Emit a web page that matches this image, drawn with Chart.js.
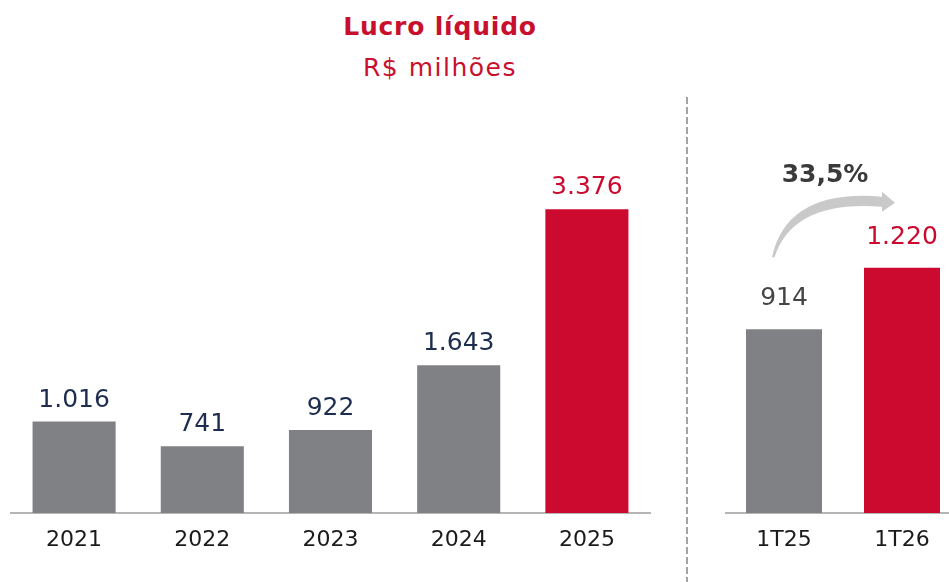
<!DOCTYPE html>
<html lang="pt-BR">
<head>
<meta charset="utf-8">
<title>Lucro líquido</title>
<script src="https://cdn.jsdelivr.net/npm/chart.js@4.4.1/dist/chart.umd.min.js"></script>
<style>
    html, body {
        margin: 0;
        padding: 0;
        width: 949px;
        height: 582px;
        overflow: hidden;
        background: #ffffff;
        font-family: "DejaVu Sans", sans-serif;
    }
    .title {
        position: absolute;
        left: 0;
        width: 880px;
        text-align: center;
        color: #c8102e;
        white-space: nowrap;
    }
    #mainTitle {
        top: 14px;
        font-size: 25px;
        line-height: 25px;
        font-weight: bold;
        letter-spacing: 0.8px;
    }
    #subTitle {
        top: 55px;
        font-size: 25px;
        line-height: 25px;
        letter-spacing: 1.5px;
    }
    #divider {
        position: absolute;
        left: 686px;
        top: 97px;
        width: 2px;
        height: 485px;
        background: repeating-linear-gradient(to bottom, #a3a3a3 0 7px, transparent 7px 10px);
    }
    canvas {
        position: absolute;
        top: 0;
    }
    #yearChart { left: 10px; }
    #quarterChart { left: 725px; }
</style>
</head>
<body>
<div class="title" id="mainTitle">Lucro líquido</div>
<div class="title" id="subTitle">R$ milhões</div>
<div id="divider"></div>
<canvas id="yearChart" width="641" height="582"></canvas>
<canvas id="quarterChart" width="236" height="582"></canvas>

<script>
// Data
const yearLabels = ['2021', '2022', '2023', '2024', '2025'];
const yearValues = [1016, 741, 922, 1643, 3376];
const quarterLabels = ['1T25', '1T26'];
const quarterValues = [914, 1220];
const growthLabel = '33,5%';

// Colors
const GRAY = '#808184';
const RED = '#cc0a2f';
const NAVY = '#1d2d4e';
const DARK = '#454545';

// 1.016 style thousands separator
function fmt(v) {
    return String(v).replace(/\B(?=(\d{3})+(?!\d))/g, '.');
}

// Last bar highlighted in red
function barColors(values) {
    return values.map((v, i) => i === values.length - 1 ? RED : GRAY);
}

// Value labels above bars
const valueLabels = {
    id: 'valueLabels',
    afterDatasetsDraw(chart, args, opts) {
        const ctx = chart.ctx;
        const meta = chart.getDatasetMeta(0);
        const values = chart.data.datasets[0].data;
        ctx.save();
        ctx.font = '25px "DejaVu Sans"';
        ctx.textAlign = 'center';
        ctx.textBaseline = 'alphabetic';
        meta.data.forEach((bar, i) => {
            ctx.fillStyle = i === values.length - 1 ? RED : opts.color;
            ctx.fillText(fmt(values[i]), bar.x, bar.y - opts.gap);
        });
        ctx.restore();
    }
};

// Curved growth arrow between the two quarter bars
const growthArrow = {
    id: 'growthArrow',
    afterDatasetsDraw(chart) {
        const ctx = chart.ctx;
        const meta = chart.getDatasetMeta(0);
        const b0 = meta.data[0];
        const b1 = meta.data[1];

        const sx = b0.x - 11, sy = b0.y - 72;       // tail
        const tx = b1.x - 7, ty = b1.y - 65;        // head tip
        const ex = tx - 13, ey = ty - 1;            // head base
        const cx = sx + 16, cy = ey - 8;

        ctx.save();
        ctx.fillStyle = '#c9c9c9';
        ctx.beginPath();
        ctx.moveTo(sx - 1, sy);
        ctx.quadraticCurveTo(cx - 2, cy - 5, ex, ey - 5);
        ctx.lineTo(ex, ey - 10);
        ctx.lineTo(tx, ty);
        ctx.lineTo(ex, ey + 10);
        ctx.lineTo(ex, ey + 5);
        ctx.quadraticCurveTo(cx + 4, cy + 6, sx + 1.5, sy);
        ctx.closePath();
        ctx.fill();

        ctx.fillStyle = '#3a3a3a';
        ctx.font = 'bold 25px "DejaVu Sans"';
        ctx.textAlign = 'center';
        ctx.textBaseline = 'alphabetic';
        ctx.fillText(growthLabel, (b0.x + b1.x) / 2 - 18, ty - 21);
        ctx.restore();
    }
};

function makeChart(id, labels, values, yMax, topPad, barPct, labelOpts, extraPlugins) {
    const ctx = document.getElementById(id).getContext('2d');
    return new Chart(ctx, {
        type: 'bar',
        data: {
            labels: labels,
            datasets: [{
                data: values,
                backgroundColor: barColors(values),
                borderWidth: 0,
                barPercentage: barPct,
                categoryPercentage: 1
            }]
        },
        options: {
            responsive: false,
            animation: false,
            layout: {
                padding: { top: topPad, bottom: 14.6, left: 0, right: 0 }
            },
            plugins: {
                legend: { display: false },
                tooltip: { enabled: false },
                valueLabels: labelOpts
            },
            scales: {
                y: {
                    display: false,
                    min: 0,
                    max: yMax
                },
                x: {
                    grid: { display: false, drawTicks: false },
                    border: { display: true, color: '#b5b5b5', width: 2 },
                    ticks: {
                        color: '#1b1b1b',
                        padding: 14,
                        font: { family: 'DejaVu Sans', size: 22, lineHeight: 1.2 }
                    }
                }
            }
        },
        plugins: [valueLabels].concat(extraPlugins)
    });
}

makeChart('yearChart', yearLabels, yearValues, 4000, 153, 0.648, { color: NAVY, gap: 15 }, []);
makeChart('quarterChart', quarterLabels, quarterValues, 1800, 151, 0.644, { color: DARK, gap: 24 }, [growthArrow]);
</script>
</body>
</html>
